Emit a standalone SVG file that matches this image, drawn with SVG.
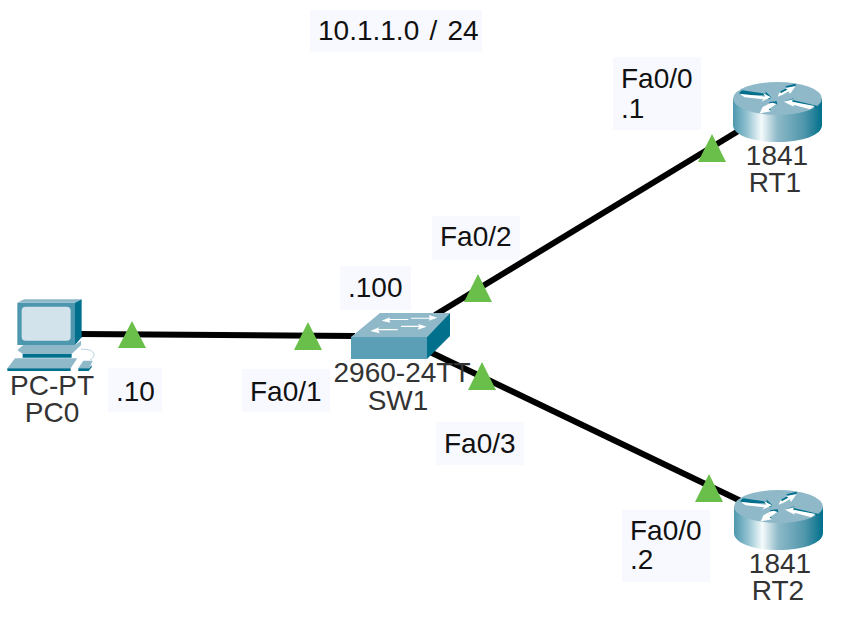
<svg xmlns="http://www.w3.org/2000/svg" width="844" height="620" viewBox="0 0 844 620">
<style>
text{font-family:"Liberation Sans",Arial,sans-serif;font-size:28px}
.n{fill:#333;text-anchor:middle}
.l{fill:#111}
.b{fill:#f8f9ff}
.t{fill:#6abf4b}
.c{stroke:#000;stroke-width:6;fill:none}
.w{fill:#fff}
.d{fill:#00708c}
</style>
<defs>
<linearGradient id="rg" x1="0" x2="1" y1="0" y2="0">
<stop offset="0" stop-color="#4d97ae"/>
<stop offset=".15" stop-color="#8fc0cf"/>
<stop offset=".32" stop-color="#f4fafb"/>
<stop offset=".5" stop-color="#8db9c8"/>
<stop offset=".8" stop-color="#4f96ab"/>
<stop offset="1" stop-color="#00708c"/>
</linearGradient>
<g id="router">
<path d="M733 99V125C733 135 752 142 777.500 142S822 135 822 125V99Z" fill="url(#rg)"/>
<ellipse cx="777.500" cy="98.500" rx="44.500" ry="16.500" fill="#8fb9c9"/>
<g transform="translate(730,78) scale(.3333)">
<path class="d" d="M28 44L36 37L108 47L106 40L124 58L118 64L100 52L30 50Z"/>
<path class="w" d="M28 47L105 56L100 46L123 58L94 71L100 64L44 58Z"/>
<path class="d" d="M147 43L170 30L166 25L197 17L197 24L172 36L150 48Z"/>
<path class="w" d="M143 56L150 39L152 46L172 35L166 30L197 24L180 48L176 40L158 50Z"/>
<path class="d" d="M165 70L190 61L188 66L260 83L260 90L190 72L166 74Z"/>
<path class="w" d="M161 71L188 64L187 71L254 84L240 94L190 80L192 86Z"/>
<path class="d" d="M118 72L140 70L142 78L118 90L122 96L90 106L92 100L118 84Z"/>
<path class="w" d="M98 87L120 76L128 74L140 78L116 94L122 100L88 107Z"/>
</g>
</g>
</defs>
<g id="connectors">
<line class="c" x1="80" y1="334" x2="355" y2="336"/>
<line class="c" x1="435" y1="315" x2="740" y2="130"/>
<line class="c" x1="430" y1="352" x2="745" y2="503"/>
</g>
<g id="label-net"><rect class="b" x="310" y="10" width="172" height="42"/><text class="l" x="318" y="40" word-spacing="2.500">10.1.1.0 / 24</text></g>
<g id="label-rt1"><rect class="b" x="613" y="57" width="88" height="73"/><text class="l" x="621" y="88">Fa0/0</text><text class="l" x="621" y="118">.1</text></g>
<g id="label-fa02"><rect class="b" x="432" y="216" width="88" height="44"/><text class="l" x="440" y="246">Fa0/2</text></g>
<g id="label-100"><rect class="b" x="340" y="266" width="71" height="44"/><text class="l" x="348" y="297">.100</text></g>
<g id="label-10"><rect class="b" x="108" y="368" width="54" height="44"/><text class="l" x="116" y="401">.10</text></g>
<g id="label-fa01"><rect class="b" x="242" y="369" width="88" height="43"/><text class="l" x="250" y="401">Fa0/1</text></g>
<g id="label-fa03"><rect class="b" x="436" y="422" width="88" height="43"/><text class="l" x="444" y="453">Fa0/3</text></g>
<g id="label-rt2"><rect class="b" x="622" y="510" width="88" height="72"/><text class="l" x="630" y="540">Fa0/0</text><text class="l" x="630" y="569">.2</text></g>
<g id="PC0">
<g transform="translate(0,280) scale(.3333)">
<path fill="#4d97ae" d="M52 68H225V195H52Z"/>
<path fill="#8fb9c9" d="M52 68L72 58H245L225 68Z"/>
<path class="d" d="M225 68L245 58V172L225 195Z"/>
<rect x="65" y="80" width="147" height="102" rx="12" fill="#d3e3ec"/>
<path fill="#8fb9c9" d="M52 210L70 195H225L243 182V196L215 222H68Z"/>
<path class="d" d="M68 222H215V233H68Z"/>
<path fill="#8fb9c9" d="M22 265L45 235H232L212 265Z"/>
<path class="d" d="M22 265H212V273H22Z"/>
<path fill="#8fb9c9" d="M235 265L250 242H278L268 265Z"/>
<path class="d" d="M235 265H268L275 255V262L266 273H235Z"/>
<path d="M243 208C280 205 295 225 270 240" fill="none" stroke="#b5d3de" stroke-width="3"/>
</g>
<text class="n" x="52" y="395">PC-PT</text>
<text class="n" x="52" y="422">PC0</text>
</g>
<g id="SW1">
<path fill="#8fb9c9" d="M351 337L380 313H450L427 337Z"/>
<path fill="#5a9fb5" d="M351 337H427V359H351Z"/>
<path class="d" d="M427 337L450 313V336L427 359Z"/>
<g transform="translate(345,305) scale(.3333)">
<path class="w" d="M110 47L135 37L133 42H190V45H133L136 53Z"/>
<path class="w" d="M277 38L252 30L254 38H198V41H254L252 47Z"/>
<path class="w" d="M76 78L102 67L100 72H158V76H100L104 85Z"/>
<path class="w" d="M245 65L220 57L222 62H168V66H222L218 74Z"/>
</g>
<text class="n" x="402" y="382">2960-24TT</text>
<text class="n" x="398" y="410">SW1</text>
</g>
<g id="RT1"><use href="#router"/><text class="n" x="777" y="165">1841</text><text class="n" x="775" y="192">RT1</text></g>
<g id="RT2"><use href="#router" transform="translate(1,408)"/><text class="n" x="780" y="573">1841</text><text class="n" x="778" y="600">RT2</text></g>
<g id="status">
<polygon class="t" points="132,321 146,348 118,348"/>
<polygon class="t" points="308,322 322,350 294,350"/>
<polygon class="t" points="478,274 492,302 464,302"/>
<polygon class="t" points="482,362 496,390 468,390"/>
<polygon class="t" points="712,134 726,162 698,162"/>
<polygon class="t" points="709,474 723,502 695,502"/>
</g>
</svg>
